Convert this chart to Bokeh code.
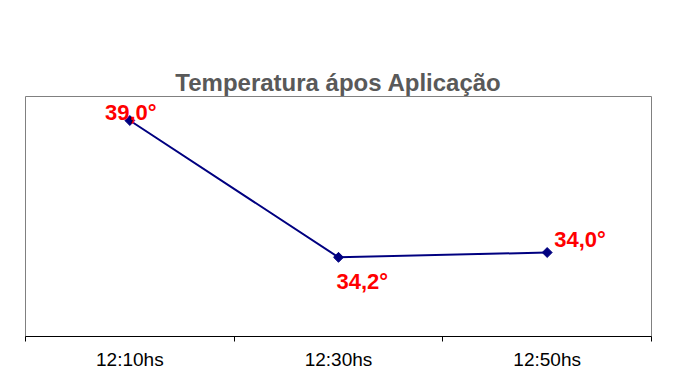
import math
from bokeh.plotting import figure
from bokeh.models import Label, FixedTicker, Range1d, Title
from bokeh.embed import file_html
from bokeh.resources import INLINE

# data
categories = ["12:10hs", "12:30hs", "12:50hs"]
temps = [39.0, 33.3, 33.5]          # plotted heights
temp_labels = ["39,0°", "34,2°", "34,0°"]
title_text = "Temperatura ápos Aplicação"

xs = [i + 0.5 for i in range(len(categories))]

p = figure(width=659, height=372, output_backend="svg", toolbar_location=None,
           x_range=Range1d(0, len(categories)), y_range=Range1d(30, 40),
           min_border_left=25, min_border_right=8, min_border_top=96, min_border_bottom=35)

# real title first, then an invisible spacer panel (later panels sit nearer the frame)
p.add_layout(Title(text=title_text, align="center", vertical_align="bottom",
                   text_font="Liberation Sans", text_font_size="24px",
                   text_font_style="bold", text_color="#595959", standoff=2), "above")
p.add_layout(Title(text=".", text_font_size="10px", text_alpha=0, standoff=44), "above")

p.line(xs, temps, line_color="#000080", line_width=2)
p.scatter(xs, temps, marker="square", size=7, angle=math.pi / 4,
          fill_color="#000080", line_color="#000080")

p.xgrid.visible = False
p.ygrid.visible = False
p.yaxis.visible = False
p.outline_line_color = "#808080"
p.outline_line_width = 1
p.background_fill_color = "white"
p.border_fill_color = "white"

ax = p.xaxis[0]
ax.ticker = FixedTicker(ticks=xs, minor_ticks=list(range(len(categories) + 1)))
ax.major_label_overrides = {x: c for x, c in zip(xs, categories)}
ax.major_tick_line_color = None
ax.major_tick_out = 0
ax.major_tick_in = 0
ax.minor_tick_out = 5
ax.minor_tick_in = 0
ax.minor_tick_line_color = "black"
ax.axis_line_color = "black"
ax.major_label_text_font = "Liberation Sans"
ax.major_label_text_font_size = "19px"
ax.major_label_text_color = "black"
ax.major_label_standoff = 7

offsets = [(1, 8, "center"), (-2, -24, "left"), (7, 13, "left")]
for x, y, t, (dx, dy, al) in zip(xs, temps, temp_labels, offsets):
    p.add_layout(Label(x=x, y=y, text=t, x_offset=dx, y_offset=dy, text_align=al,
                       text_baseline="alphabetic", text_font="Liberation Sans",
                       text_font_size="22px", text_font_style="bold", text_color="red"))

open("out.html", "w").write(file_html(p, INLINE))
